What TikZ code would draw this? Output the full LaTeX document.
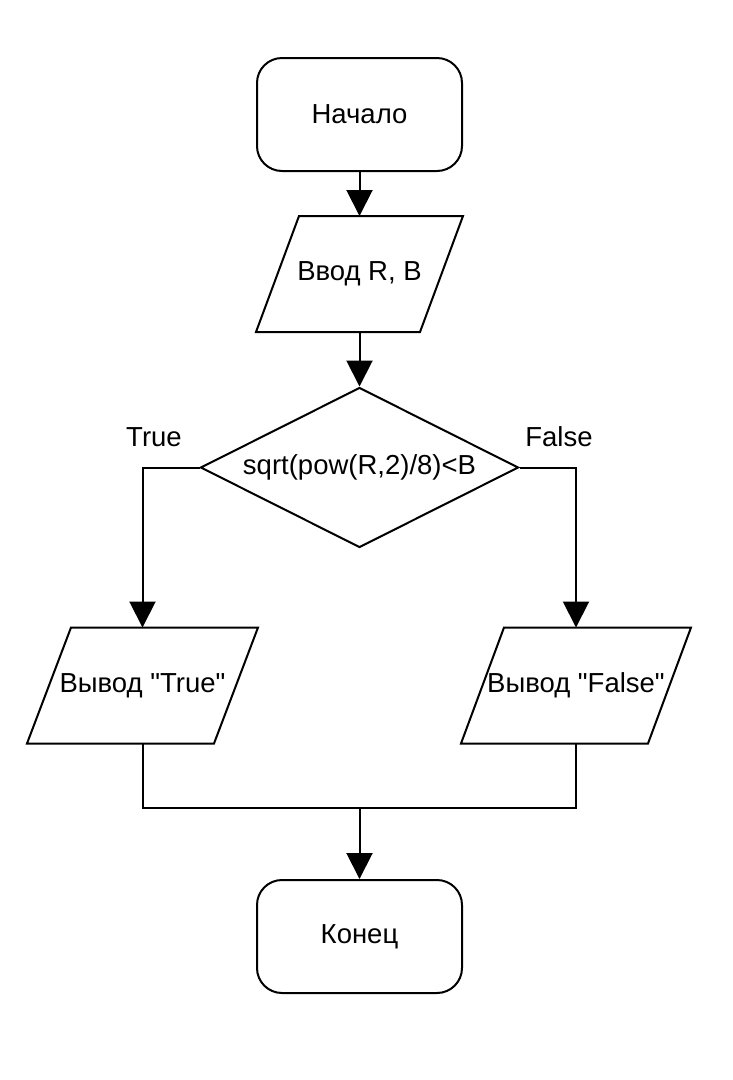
\documentclass[tikz,border=0pt]{standalone}
\usepackage{fontspec}
\setmainfont{Liberation Sans}
\usetikzlibrary{arrows.meta,shapes.geometric}
\begin{document}
\begin{tikzpicture}[x=1pt,y=-1pt,
  line width=2pt,
  every node/.style={font=\fontsize{27.5}{31}\selectfont,inner sep=0pt},
  term/.style={draw,rounded corners=25pt,minimum width=205pt,minimum height=113pt},
  iobox/.style={minimum width=#1,minimum height=114pt},
  decision/.style={draw,diamond,minimum width=318pt,minimum height=160pt,aspect=2},
  flow/.style={-{Triangle[width=26pt,length=26pt]}},
  link/.style={line join=miter}]
\useasboundingbox (0,0) rectangle (733,1080);

% blocks
\node[term] (start) at (359.5,114.5) {Начало};
\node[iobox=205pt] (in) at (359.5,274) {Ввод R, B};
\draw ([xshift=43pt]in.north west) -- (in.north east)
      -- ([xshift=-43pt]in.south east) -- (in.south west) -- cycle;
\node[decision] (dec) at (359.5,467.5) {sqrt(pow(R,2)/8)<B};
\node[iobox=229pt] (outT) at (142.5,685.5) {Вывод \textquotedbl True\textquotedbl};
\draw ([xshift=44pt]outT.north west) -- (outT.north east)
      -- ([xshift=-44pt]outT.south east) -- (outT.south west) -- cycle;
\node[iobox=228pt] (outF) at (576,685.5) {Вывод \textquotedbl False\textquotedbl};
\draw ([xshift=43pt]outF.north west) -- (outF.north east)
      -- ([xshift=-43pt]outF.south east) -- (outF.south west) -- cycle;
\node[term] (end) at (359.5,936.5) {Конец};
\coordinate (join) at (359.5,808);

% branch labels
\node (lt) at (154,437) {True};
\node (lf) at (559,437) {False};

% connectors
\draw[flow] (start.south) -- (in.north);
\draw[flow] (in.south) -- (dec.north);
\draw[flow,link] (dec.west) -| (outT.north);
\draw[flow,link] (dec.east) -| (outF.north);
\draw[link] (outT.south) |- (join);
\draw[link] (outF.south) |- (join);
\draw[flow] (join) -- (end.north);
\end{tikzpicture}
\end{document}
